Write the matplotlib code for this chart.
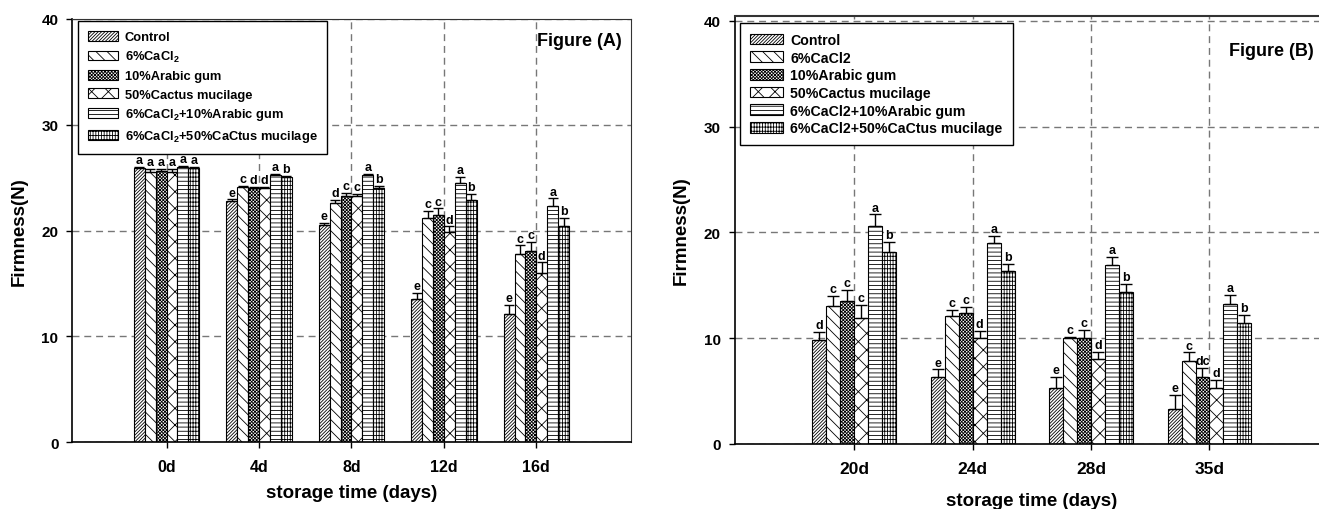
import matplotlib
matplotlib.use('Agg')
import matplotlib.pyplot as plt
from matplotlib.patches import Patch
import numpy as np

plt.rcParams['font.family'] = ['Liberation Sans', 'DejaVu Sans']
plt.rcParams['font.weight'] = 'bold'
plt.rcParams['mathtext.fontset'] = 'custom'
plt.rcParams['mathtext.bf'] = 'Liberation Sans:bold'
plt.rcParams['mathtext.rm'] = 'Liberation Sans:bold'
plt.rcParams['hatch.linewidth'] = 0.6

# ---------------- data ----------------
days_a = ['0d', '4d', '8d', '12d', '16d']
days_b = ['20d', '24d', '28d', '35d']

labels_a = ['Control', r'6%CaCl$_\mathbf{2}$', '10%Arabic gum', '50%Cactus mucilage',
            r'6%CaCl$_\mathbf{2}$+10%Arabic gum', r'6%CaCl$_\mathbf{2}$+50%CaCtus mucilage']
labels_b = ['Control', '6%CaCl2', '10%Arabic gum', '50%Cactus mucilage',
            '6%CaCl2+10%Arabic gum', '6%CaCl2+50%CaCtus mucilage']

# Figure A values (per treatment, over days_a)
control_a = [25.9, 22.8, 20.5, 13.5, 12.1]
cacl2_a   = [25.5, 24.15, 22.6, 21.2, 17.8]
arabic_a  = [25.6, 24.05, 23.3, 21.5, 18.1]
cactus_a  = [25.5, 24.05, 23.3, 19.9, 16.0]
cacl2_ag_a = [26.0, 25.25, 25.3, 24.5, 22.3]
cacl2_cm_a = [25.9, 25.05, 24.05, 22.9, 20.4]

control_a_err = [0.1, 0.15, 0.25, 0.6, 0.85]
cacl2_a_err   = [0.3, 0.05, 0.3, 0.7, 0.8]
arabic_a_err  = [0.2, 0.1, 0.3, 0.6, 0.8]
cactus_a_err  = [0.3, 0.1, 0.2, 0.5, 1.0]
cacl2_ag_a_err = [0.1, 0.1, 0.05, 0.6, 0.75]
cacl2_cm_a_err = [0.1, 0.1, 0.15, 0.6, 0.8]

letters_a = [['a', 'a', 'a', 'a', 'a', 'a'],
             ['e', 'c', 'd', 'd', 'a', 'b'],
             ['e', 'd', 'c', 'c', 'a', 'b'],
             ['e', 'c', 'c', 'd', 'a', 'b'],
             ['e', 'c', 'c', 'd', 'a', 'b']]

# Figure B values (per treatment, over days_b)
control_b = [9.8, 6.35, 5.3, 3.35]
cacl2_b   = [13.0, 12.05, 10.05, 7.8]
arabic_b  = [13.55, 12.35, 10.05, 6.35]
cactus_b  = [11.95, 10.05, 8.0, 5.3]
cacl2_ag_b = [20.6, 19.0, 16.95, 13.2]
cacl2_cm_b = [18.1, 16.35, 14.4, 11.4]

control_b_err = [0.8, 0.7, 1.05, 1.3]
cacl2_b_err   = [1.0, 0.6, 0.05, 0.85]
arabic_b_err  = [1.0, 0.6, 0.7, 0.8]
cactus_b_err  = [1.2, 0.6, 0.7, 0.75]
cacl2_ag_b_err = [1.1, 0.65, 0.75, 0.85]
cacl2_cm_b_err = [1.0, 0.7, 0.7, 0.8]

letters_b = [['d', 'c', 'c', 'c', 'a', 'b'],
             ['e', 'c', 'c', 'd', 'a', 'b'],
             ['e', 'c', 'c', 'd', 'a', 'b'],
             ['e', 'c', 'dc', 'd', 'a', 'b']]

hatches = ['/' * 10, '\\' * 3, 'x' * 10, 'xx', '-' * 4, '+' * 4 + '||']

# ---------------- figure ----------------
fig = plt.figure(figsize=(13.19, 5.10), dpi=100)
axA = fig.add_axes([0.0548, 0.1308, 0.4233, 0.830])
axB = fig.add_axes([0.5571, 0.1275, 0.4505, 0.8398])

grid_style = dict(color='#777777', linestyle=(0, (5, 3.5)), linewidth=1.0)
width = 0.118


def draw(ax, days, series, errs, letters, labels, capsize, tick_fs):
    x = np.arange(len(days))
    n = len(series)
    for i, (vals, err, h) in enumerate(zip(series, errs, hatches)):
        xs = x + (i - (n - 1) / 2) * width
        ax.bar(xs, vals, width, facecolor='white', edgecolor='black',
               linewidth=0.8, hatch=h, zorder=2)
        ax.errorbar(xs, vals, yerr=[np.zeros(len(vals)), err], fmt='none',
                    ecolor='black', elinewidth=1.0, capsize=capsize,
                    capthick=1.0, zorder=3)
        for j in range(len(days)):
            ax.annotate(letters[j][i], (xs[j], vals[j] + err[j]),
                        xytext=(0, 0.6), textcoords='offset points',
                        ha='center', va='bottom', fontsize=9,
                        fontweight='bold', zorder=4)
    ax.set_xticks(x)
    ax.set_xticklabels(days, fontsize=tick_fs, fontweight='bold')
    ax.set_yticks([0, 10, 20, 30, 40])
    ax.set_yticklabels(['0', '10', '20', '30', '40'], fontsize=11,
                       fontweight='bold')
    ax.grid(True, **grid_style)
    ax.set_axisbelow(True)
    ax.tick_params(axis='y', direction='out', length=4, width=1, pad=6)
    ax.tick_params(axis='x', direction='out', length=4, width=1, pad=8)
    ax.set_ylabel('Firmness(N)', fontsize=13.5, fontweight='bold')
    ax.set_xlabel('storage time (days)', fontsize=13.5, fontweight='bold')
    handles = [Patch(facecolor='white', edgecolor='black', linewidth=0.8,
                     hatch=h, label=l) for h, l in zip(hatches, labels)]
    return handles


hA = draw(axA, days_a,
          [control_a, cacl2_a, arabic_a, cactus_a, cacl2_ag_a, cacl2_cm_a],
          [control_a_err, cacl2_a_err, arabic_a_err, cactus_a_err,
           cacl2_ag_a_err, cacl2_cm_a_err],
          letters_a, labels_a, capsize=3.6, tick_fs=11.5)
hB = draw(axB, days_b,
          [control_b, cacl2_b, arabic_b, cactus_b, cacl2_ag_b, cacl2_cm_b],
          [control_b_err, cacl2_b_err, arabic_b_err, cactus_b_err,
           cacl2_ag_b_err, cacl2_cm_b_err],
          letters_b, labels_b, capsize=4.5, tick_fs=12.5)

axA.set_xlim(-1.02, 5.02)
axA.set_ylim(0, 40)
axB.set_xlim(-1.01, 4.01)
axB.set_ylim(0, 40.48)

for ax in (axA, axB):
    ax.spines['left'].set_linewidth(1.2)
    ax.spines['bottom'].set_linewidth(1.2)
    ax.spines['top'].set_color('#333333')
    ax.spines['right'].set_color('#333333')
axB.spines['right'].set_visible(False)
axB.spines['top'].set_linewidth(1.5)

axA.yaxis.set_label_coords(-0.079, 0.5)
axB.yaxis.set_label_coords(-0.076, 0.5)
axA.xaxis.set_label_coords(0.5, -0.099)
axB.xaxis.set_label_coords(0.5, -0.112)

legA = axA.legend(handles=hA, loc='upper left', bbox_to_anchor=(0.011, 0.995),
                  borderaxespad=0, fontsize=9.3, frameon=True, fancybox=False,
                  edgecolor='black', framealpha=1, handlelength=2.3,
                  handleheight=0.8, handletextpad=0.55, labelspacing=0.45,
                  borderpad=0.75)
legA.get_frame().set_linewidth(1.0)
legB = axB.legend(handles=hB, loc='upper left', bbox_to_anchor=(0.009, 0.983),
                  borderaxespad=0, fontsize=10.2, frameon=True, fancybox=False,
                  edgecolor='black', framealpha=1, handlelength=2.3,
                  handleheight=0.8, handletextpad=0.55, labelspacing=0.26,
                  borderpad=0.7)
legB.get_frame().set_linewidth(1.0)

axA.text(4.92, 37.55, 'Figure (A)', ha='right', va='baseline', fontsize=13,
         fontweight='bold', zorder=5)
axB.text(3.88, 36.8, 'Figure (B)', ha='right', va='baseline', fontsize=13,
         fontweight='bold', zorder=5)

fig.savefig('out.png', dpi=100)
